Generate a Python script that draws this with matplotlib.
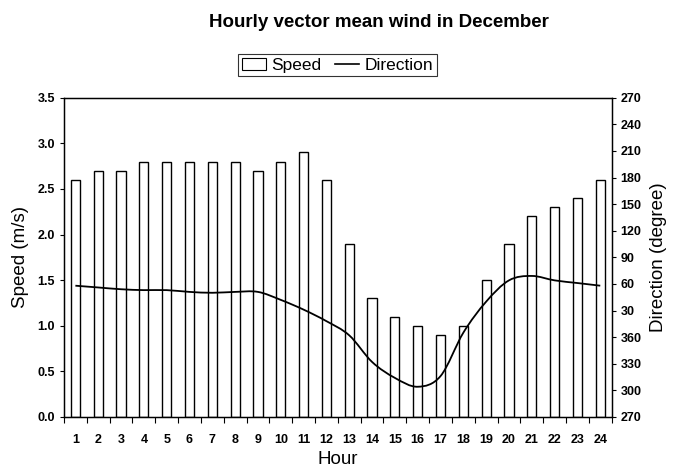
# Hourly vector mean wind (December): speed bars + smoothed direction line
import numpy as np
import matplotlib
matplotlib.use('Agg')
import matplotlib.pyplot as plt
from matplotlib.path import Path
from matplotlib.patches import PathPatch
from matplotlib.lines import Line2D
from matplotlib.patches import Patch

plt.rcParams['font.family'] = ['Liberation Sans', 'DejaVu Sans']

hours = list(range(1, 25))
speed = [2.6, 2.7, 2.7, 2.8, 2.8, 2.8, 2.8, 2.8, 2.7, 2.8, 2.9, 2.6,
         1.9, 1.3, 1.1, 1.0, 0.9, 1.0, 1.5, 1.9, 2.2, 2.3, 2.4, 2.6]
direction = [58, 56, 54, 53, 53, 51, 50, 51, 51, 42, 31, 18,
             2, 332, 314, 304, 316, 5, 40, 64, 69, 64, 61, 58]
dir_ticks = list(range(270, 631, 30))
dir_labels = [str(v % 360 if v % 360 else 360) for v in dir_ticks]


# direction axis runs 270 -> 630, so wrap the small angles up by 360
def unwrap(d):
    return d + 360 if d < 270 else d


# smoothed line like the spreadsheet one: bezier through the points
def smooth_path(x, y):
    pts = np.column_stack([x, y]).astype(float)
    n = len(pts)
    verts = [pts[0]]
    codes = [Path.MOVETO]
    for i in range(n - 1):
        p0 = pts[i - 1] if i > 0 else pts[i]
        p3 = pts[i + 2] if i + 2 < n else pts[i + 1]
        c1 = pts[i] + (pts[i + 1] - p0) / 6.0
        c2 = pts[i + 1] - (p3 - pts[i]) / 6.0
        verts += [c1, c2, pts[i + 1]]
        codes += [Path.CURVE4] * 3
    return Path(verts, codes)


fig = plt.figure(figsize=(6.77, 4.70), dpi=100)
ax = fig.add_axes([0.0945, 0.113, 0.809, 0.679])
ax.bar(hours, speed, width=0.4, color='white', edgecolor='black', linewidth=1.0)
ax.set_xlim(0.5, 24.5)
ax.set_ylim(0, 3.5)
ax.set_yticks(np.arange(0, 3.51, 0.5))
ax.set_yticklabels(['%.1f' % v for v in np.arange(0, 3.51, 0.5)])
ax.set_xticks(hours)
ax.set_xticks(np.arange(0.5, 24.6, 1), minor=True)
ax.tick_params(axis='x', which='major', length=0, pad=12, labelsize=9)
ax.tick_params(axis='x', which='minor', length=4, direction='out', width=0.8)
ax.tick_params(axis='y', length=3, direction='out', labelsize=9)
for lab in ax.get_xticklabels() + ax.get_yticklabels():
    lab.set_fontweight('bold')
ax.set_ylabel('Speed (m/s)', fontsize=13.5, labelpad=6)
ax.set_xlabel('Hour', fontsize=13.5, labelpad=4)
for s in ax.spines.values():
    s.set_linewidth(1.0)

ax2 = ax.twinx()
ax2.set_ylim(270, 630)
ax2.set_yticks(dir_ticks)
ax2.set_yticklabels(dir_labels)
ax2.tick_params(axis='y', length=3, direction='out', labelsize=9)
for lab in ax2.get_yticklabels():
    lab.set_fontweight('bold')
ax2.set_ylabel('Direction (degree)', fontsize=13.5, labelpad=6)
dir_y = [unwrap(d) for d in direction]
ax2.add_patch(PathPatch(smooth_path(hours, dir_y), facecolor='none',
                        edgecolor='black', linewidth=1.3))

fig.text(0.56, 0.953, 'Hourly vector mean wind in December', ha='center',
         va='center', fontsize=13.5, fontweight='bold')
handles = [Patch(facecolor='white', edgecolor='black', linewidth=0.8),
           Line2D([], [], color='black', linewidth=1.2)]
leg = fig.legend(handles, ['Speed', 'Direction'], loc='center',
                 bbox_to_anchor=(0.4985, 0.861), ncol=2, fontsize=12.5,
                 frameon=True, fancybox=False, edgecolor='black',
                 handlelength=1.4, handletextpad=0.3, columnspacing=0.8,
                 borderpad=0.2, borderaxespad=0)
leg.get_frame().set_linewidth(0.8)

fig.savefig('out.png', dpi=100)
